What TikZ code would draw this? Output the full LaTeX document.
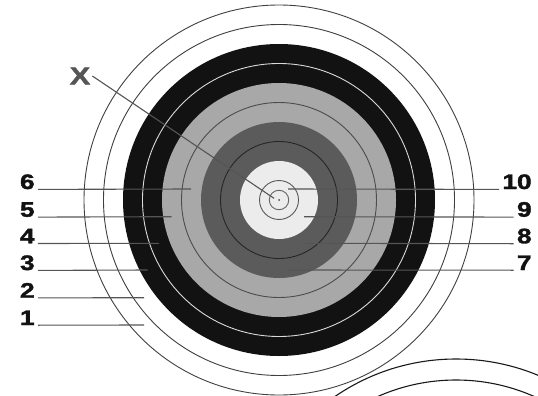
\documentclass[tikz,border=0pt]{standalone}
\usepackage{fontspec}
\setmainfont{Liberation Sans}
\newfontfamily\heavyfont[FakeBold=1.6]{Liberation Sans}
\usepackage{tikz}
\usetikzlibrary{calc}
\usepackage{xcolor}
\definecolor{zoneblack}{HTML}{121212}
\definecolor{zonelight}{HTML}{A8A8A8}
\definecolor{zonedark}{HTML}{5B5B5B}
\definecolor{zonecentre}{HTML}{ECECEC}
\definecolor{leadgray}{HTML}{555555}

\begin{document}
\begin{tikzpicture}[x=1pt,y=-1pt,
  numlbl/.style={font=\heavyfont\fontsize{21}{21}\selectfont\bfseries,text=black!93,xscale=1.25,inner xsep=2.5pt,inner ysep=0pt},
  lead/.style={draw=leadgray,line width=1.1pt},
  scoreline/.style={draw=#1,line width=0.9pt}]
\useasboundingbox (0,0) rectangle (538,396);
\coordinate (c) at (279,200);
\fill[white] (c) circle (195);
\fill[zoneblack] (c) circle (156);
\fill[zonelight] (c) circle (117);
\fill[zonedark] (c) circle (78);
\fill[zonecentre] (c) circle (39);
\foreach \r/\col in {195/black!75,175.5/black!75,136.5/white!85!black,97.5/black!70,58.5/black!85,19.5/black!65,9.75/black!60}
  \draw[scoreline=\col] (c) circle (\r);
\fill[black!70] (c) circle (1);
\begin{scope}
\clip (0,0) rectangle (538,396);
\draw[black!90,line width=1.1pt] (456,573) circle (214) (456,573) circle (193);
\end{scope}
\foreach \n/\y/\ex in {6/189/191,5/216.7/171.7,4/243.3/159,3/270/147.7,2/297.7/144,1/325/144}{
  \node[numlbl,anchor=base east] (l\n) at (38,\y) {\n};
  \coordinate (e\n) at (\ex,\y);
  \draw[lead] (l\n.south east) -- (e\n);
}
\foreach \n/\y/\sx in {10/189/288,9/216.7/304,8/243.3/305,7/270/288}{
  \node[numlbl,anchor=base east] (r\n) at (535,\y) {\n};
  \coordinate (s\n) at (\sx,\y);
  \draw[lead] (s\n) -- (r\n.south west);
}
\node[numlbl,font=\heavyfont\fontsize{24.5}{24.5}\selectfont\bfseries,text=leadgray,inner xsep=1.5pt] (lx) at (80,76) {X};
\coordinate (xe) at (274,198.3);
\draw[lead] (lx.east) -- (xe);
\end{tikzpicture}
\end{document}
